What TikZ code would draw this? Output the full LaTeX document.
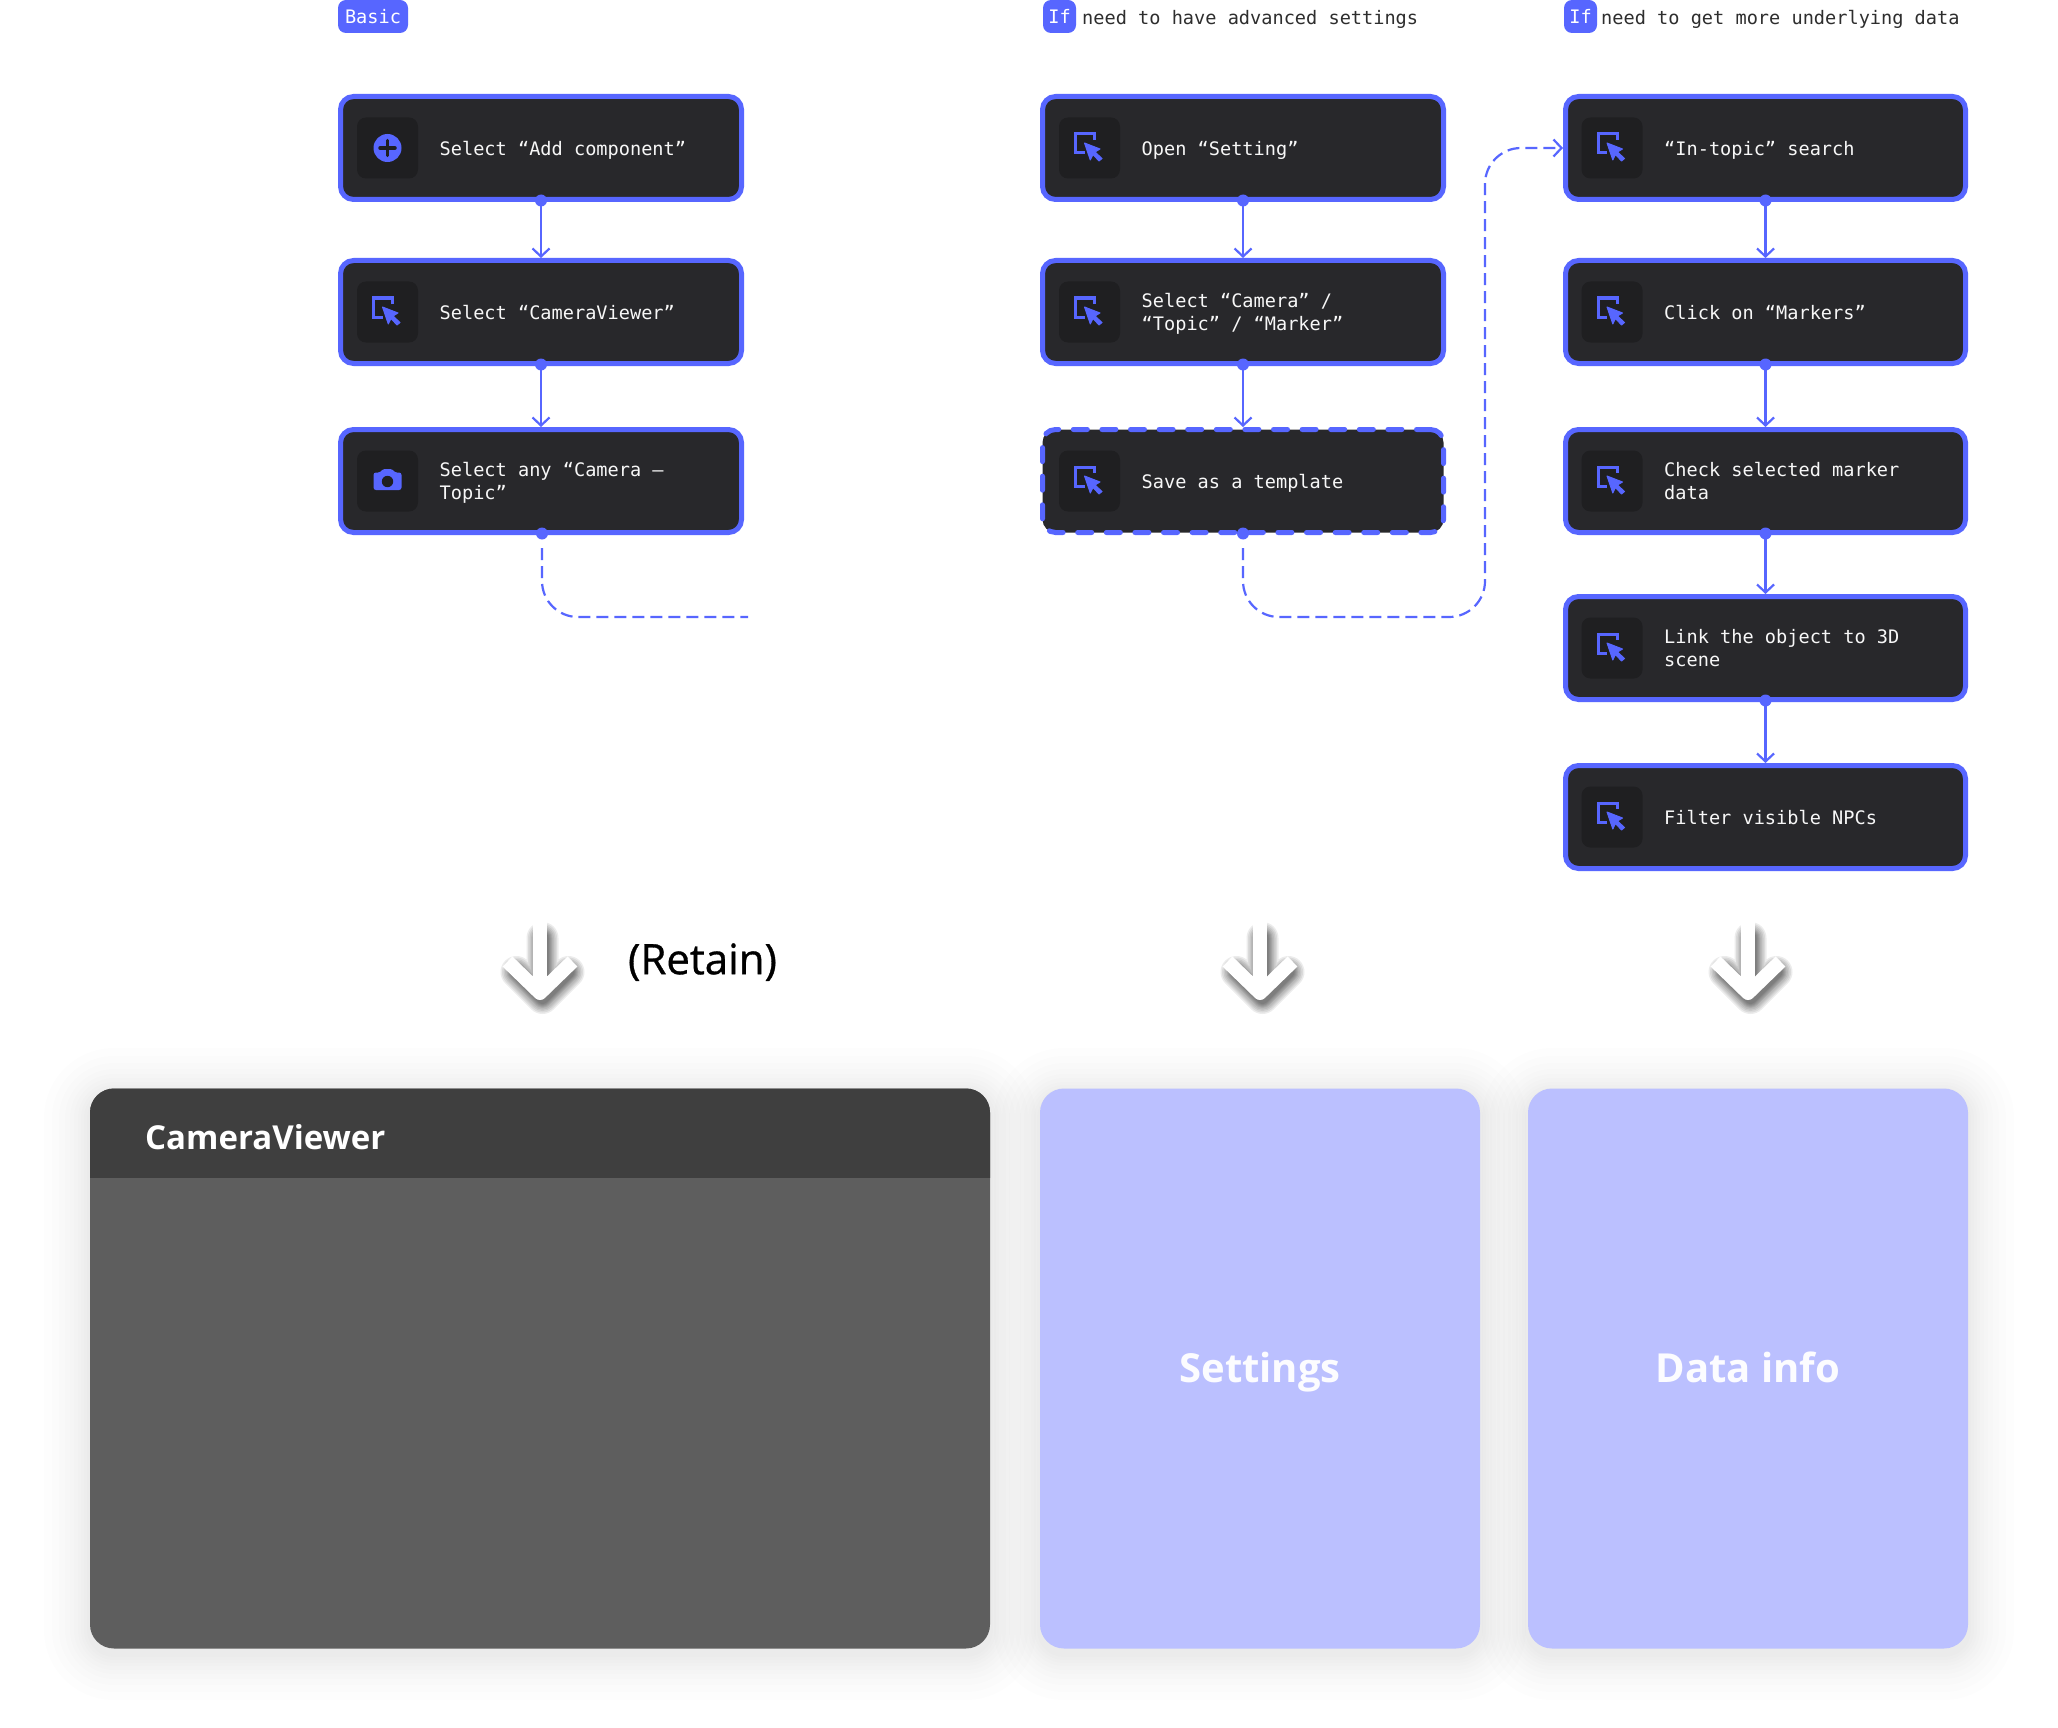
\documentclass[tikz,border=0pt]{standalone}
\usepackage{fontspec}
\setmainfont{Open Sans}
\newfontfamily\monof{DejaVu Sans Mono}
\newfontfamily\midf[FakeBold=0.8]{Open Sans}
\usetikzlibrary{arrows.meta}
\definecolor{flowblue}{HTML}{5766FF}
\definecolor{boxdark}{HTML}{28282B}
\definecolor{icondark}{HTML}{1F1F21}
\definecolor{headdark}{HTML}{3F3F3F}
\definecolor{bodygrey}{HTML}{5E5E5E}
\definecolor{lavender}{HTML}{BBC0FF}
\tikzset{
  flowbox/.style={draw=flowblue,fill=boxdark,line width=5pt,rounded corners=13pt,minimum width=401pt,minimum height=103pt,inner sep=0pt},
  lastbox/.style={flowbox,minimum width=400pt},
  savebox/.style={flowbox,dash pattern=on 14pt off 14.6pt,line cap=round},
  iconbox/.style={fill=icondark,rounded corners=9pt,minimum width=61pt,minimum height=61pt,inner sep=0pt},
  steplabel/.style={text=white!97!black,anchor=west,align=left,inner sep=0pt,font=\monof\fontsize{18.6}{23.5}\selectfont},
  tagbox/.style={fill=flowblue,rounded corners=8pt,text=white,minimum height=33pt,inner sep=0pt,font=\monof\fontsize{18.6}{23.5}\selectfont},
  taglabel/.style={text=black!82,anchor=west,inner sep=0pt,font=\monof\fontsize{18.6}{23.5}\selectfont},
  conn/.style={draw=flowblue,line width=2.2pt,-{Straight Barb[length=8pt,width=17pt]}},
  dashconn/.style={draw=flowblue,line width=2.2pt,dash pattern=on 12pt off 6pt,rounded corners=36pt,shorten <=13pt},
  carddot/.style={fill=flowblue},
  bigtext/.style={inner sep=0pt,text=white!96!lavender,font=\bfseries\fontsize{40}{46}\selectfont},
  lavcard/.style={fill=lavender,rounded corners=24pt,minimum width=440pt,minimum height=560pt,inner sep=0pt}
}
\newcommand{\cursoricon}[1]{%
  \begin{scope}[shift={(#1.center)}]
    \draw[flowblue,line width=3pt] (5,-8) -- (5,-14) -- (-14,-14) -- (-14,5) -- (-5,5);
    \fill[flowblue,draw=flowblue,line width=1pt,line join=round] (-5,-5) -- (10.5,1) -- (5.5,4) -- (12.5,10.5) -- (9.5,13) -- (3.5,6.5) -- (0.8,12) -- cycle;
  \end{scope}}
\newcommand{\plusicon}[1]{%
  \begin{scope}[shift={(#1.center)}]
    \fill[flowblue] (0,0) circle (14);
    \draw[icondark,line width=3.5pt,line cap=round] (-7.5,0) -- (7.5,0) (0,-7.5) -- (0,7.5);
  \end{scope}}
\newcommand{\cameraicon}[1]{%
  \begin{scope}[shift={(#1.center)}]
    \fill[flowblue,rounded corners=2.5pt] (-14,-8.5) -- (-7,-8.5) -- (-5,-12) -- (5,-12) -- (7,-8.5) -- (14,-8.5) -- (14,9) -- (-14,9) -- cycle;
    \fill[icondark] (0,0.5) circle (5.7);
  \end{scope}}
% name, centre x, centre y, box style, icon, text
\newcommand{\stepnode}[6]{%
  \node[#4] (#1) at (#2,#3) {};
  \node[iconbox] (#1i) at (#2-153.5,#3) {};
  #5{#1i}
  \node[steplabel] (#1t) at (#2-101.5,#3+2.5) {#6};}
\newcommand{\startdot}[1]{\fill[carddot] ([yshift=1.5pt]#1.south) circle (6);}
\newcommand{\bigarrow}[1]{%
  \foreach \w in {32,29,26,23,20,18,16,14,12}{
    \draw[black,opacity=0.075,line width=\w pt,line join=round,line cap=round] (#1+2.5,938) -- (#1+2.5,998) (#1-26+2.5,972) -- (#1+2.5,998) -- (#1+26+2.5,972);
  }
  \draw[white,line width=14pt] (#1,922) -- (#1,990);
  \draw[white,line width=14pt,line join=round] (#1-32.5,961.5) -- (#1,993) -- (#1+32.5,961.5);}
\newcommand{\cardshadow}[4]{%
  \foreach \k in {3,6,9,12,16,20,25,31,38,46}{
    \pgfmathsetmacro{\rr}{24+\k}
    \fill[black,opacity=0.006,rounded corners=\rr pt] (#1-\k,#2-\k+6) rectangle (#3+\k,#4+\k+6);
  }}
\begin{document}
\begin{tikzpicture}[x=1pt,y=-1pt]
\useasboundingbox[fill=white] (0,0) rectangle (2058,1728);

% tags
\node[tagbox,minimum width=70pt] (tagA) at (373,16.5) {Basic};
\node[tagbox,minimum width=33pt] (tagB) at (1059.5,16.5) {If};
\node[taglabel] (tagBt) at (1082,19.5) {\strut need to have advanced settings};
\node[tagbox,minimum width=33pt] (tagC) at (1580.5,16.5) {If};
\node[taglabel] (tagCt) at (1601,19.5) {\strut need to get more underlying data};

% free ends of the dashed connectors
\coordinate (freeA) at (748,617);
\coordinate (turnB) at (1485,617);

% column 1
\stepnode{a1}{541}{148}{flowbox}{\plusicon}{\strut Select “Add component”}
\stepnode{a2}{541}{312}{flowbox}{\cursoricon}{\strut Select “CameraViewer”}
\stepnode{a3}{541}{481}{flowbox}{\cameraicon}{\strut Select any “Camera –\\\strut Topic”}
% column 2
\stepnode{b1}{1243}{148}{flowbox}{\cursoricon}{\strut Open “Setting”}
\stepnode{b2}{1243}{312}{flowbox}{\cursoricon}{\strut Select “Camera” /\\\strut “Topic” / “Marker”}
\stepnode{b3}{1243}{481}{savebox}{\cursoricon}{\strut Save as a template}
% column 3
\stepnode{c1}{1765.5}{148}{lastbox}{\cursoricon}{\strut “In-topic” search}
\stepnode{c2}{1765.5}{312}{lastbox}{\cursoricon}{\strut Click on “Markers”}
\stepnode{c3}{1765.5}{481}{lastbox}{\cursoricon}{\strut Check selected marker\\\strut data}
\stepnode{c4}{1765.5}{648}{lastbox}{\cursoricon}{\strut Link the object to 3D\\\strut scene}
\stepnode{c5}{1765.5}{817}{lastbox}{\cursoricon}{\strut Filter visible NPCs}

% solid connectors
\draw[conn] (a1.south) -- (a2.north);
\draw[conn] (a2.south) -- (a3.north);
\draw[conn] (b1.south) -- (b2.north);
\draw[conn] (b2.south) -- (b3.north);
\draw[conn] (c1.south) -- (c2.north);
\draw[conn] (c2.south) -- (c3.north);
\draw[conn] (c3.south) -- (c4.north);
\draw[conn] (c4.south) -- (c5.north);
% dashed connectors
\draw[dashconn] ([xshift=1pt]a3.south) |- (freeA);
\draw[dashconn,-{Straight Barb[length=8pt,width=17pt]}] (b3.south) |- (turnB) -- (turnB |- c1.west) -- (c1.west);
% dots
\startdot{a1}\startdot{a2}\startdot{b1}\startdot{b2}\startdot{b3}
\startdot{c1}\startdot{c2}\startdot{c3}\startdot{c4}
\fill[carddot] ([xshift=1pt,yshift=1.5pt]a3.south) circle (6);

% big arrows
\bigarrow{540}
\bigarrow{1260}
\bigarrow{1748}
\node[anchor=center,inner sep=0pt,text=black,font=\midf\fontsize{42}{46}\selectfont] (retain) at (702.5,965) {\strut (Retain)};

% cards
\cardshadow{90}{1088}{990}{1648}
\cardshadow{1040}{1088}{1480}{1648}
\cardshadow{1528}{1088}{1968}{1648}
\node[fill=bodygrey,rounded corners=24pt,minimum width=900pt,minimum height=560pt,inner sep=0pt] (cardA) at (540,1368.5) {};
\begin{scope}
  \clip (90,1088.5) rectangle (990,1177.5);
  \fill[headdark,rounded corners=24pt] (90,1088.5) rectangle (990,1648.5);
\end{scope}
\node[anchor=west,inner sep=0pt,text=white,font=\bfseries\fontsize{33}{42}\selectfont] (cardAt) at (145,1141) {\strut CameraViewer};
\node[lavcard] (cardB) at (1260,1368.5) {};
\node[lavcard] (cardC) at (1748,1368.5) {};
\node[bigtext] (cardBt) at (1260,1373) {\strut Settings};
\node[bigtext] (cardCt) at (1748,1373) {\strut Data info};
\end{tikzpicture}
\end{document}
